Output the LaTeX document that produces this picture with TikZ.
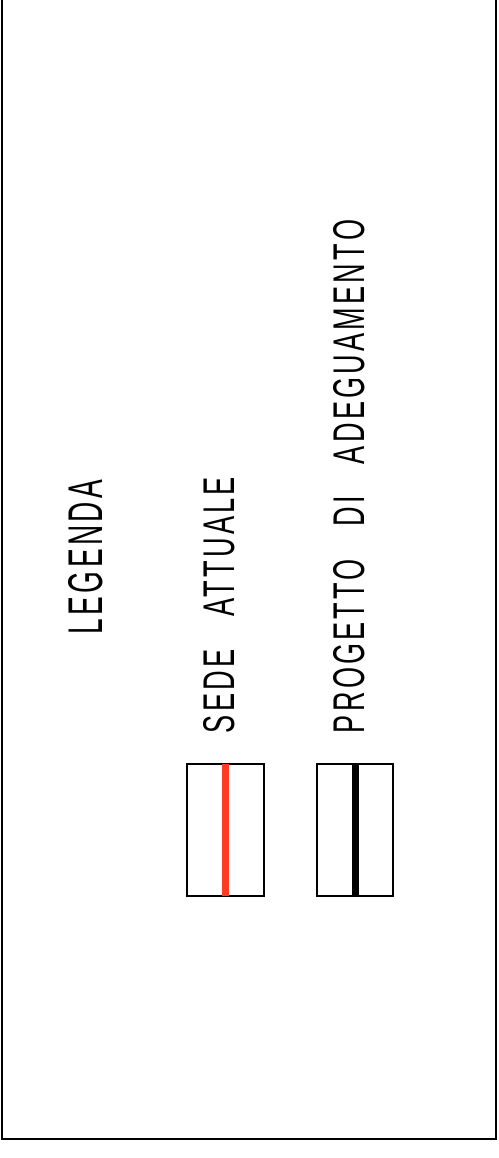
\documentclass[tikz,border=0pt]{standalone}
\usepackage{fontspec}
\IfFontExistsTF{FiraSans-Regular.otf}{%
  \newfontfamily\cadbold[LetterSpace=12,WordSpace=3]{FiraSans-Regular.otf}%
}{%
  \newfontfamily\cadbold[LetterSpace=12,WordSpace=3]{Liberation Sans}%
}
\IfFontExistsTF{FiraSans-ExtraLight.otf}{%
  \newfontfamily\cadthin[LetterSpace=12,WordSpace=3]{FiraSans-ExtraLight.otf}%
}{%
  \newfontfamily\cadthin[LetterSpace=12,WordSpace=3]{Liberation Sans}%
}
\definecolor{sedered}{RGB}{255,58,36}
\begin{document}
\begin{tikzpicture}[x=1pt,y=-1pt,
  frameline/.style={draw=black,line width=2pt},
  legbox/.style={draw=black,line width=1.3pt},
  legtext/.style={rotate=90,inner sep=0pt,outer sep=0pt,anchor=center}]
\useasboundingbox (0,0) rectangle (498,1158);
% outer frame (top edge lies above the picture)
\draw[frameline] (1.5,-5) -- (1.5,1139) -- (496,1139) -- (496,-5);
% title
\node[legtext] (title) at (86,557) {\resizebox{154pt}{34pt}{\cadbold LEGENDA}};
% entries
\node[legtext] (t1) at (219.5,605) {\resizebox{256pt}{31pt}{\cadthin SEDE ATTUALE}};
\node[legtext] (t2) at (349.5,476.5) {\resizebox{513pt}{31pt}{\cadthin PROGETTO DI ADEGUAMENTO}};
% symbol boxes
\draw[legbox] (187,764) rectangle (264,896);
\fill[sedered] (222,764) rectangle (229,896);
\draw[legbox] (317,764) rectangle (393,896);
\fill[black] (352,764) rectangle (359,896);
\end{tikzpicture}
\end{document}
